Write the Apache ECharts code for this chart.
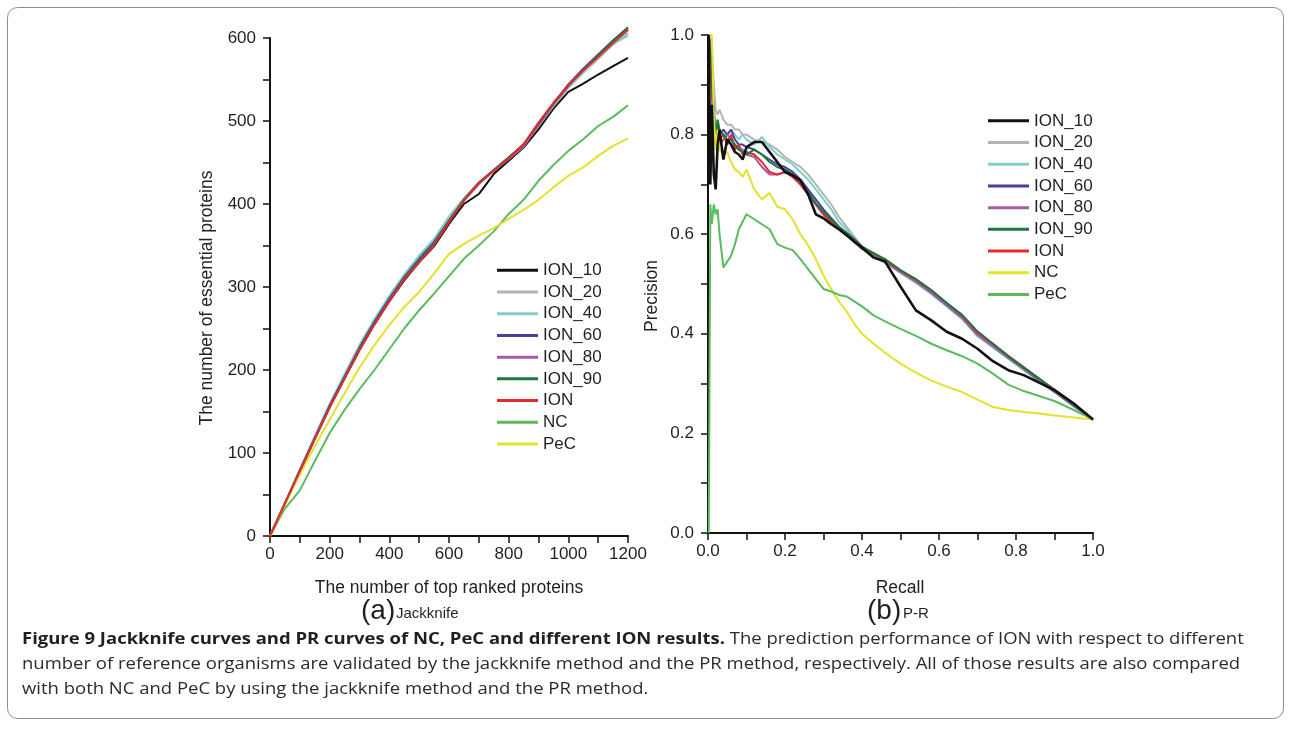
<!DOCTYPE html>
<html>
<head>
<meta charset="utf-8">
<script src="https://cdn.jsdelivr.net/npm/echarts@6/dist/echarts.min.js"></script>
<style>
html,body{margin:0;padding:0;background:#fff;}
#chart{width:1290px;height:733px;}
</style>
</head>
<body>
<div id="chart"></div>
<script>
// ---------- Data ----------
var seriesNames = ['ION_10','ION_20','ION_40','ION_60','ION_80','ION_90','ION','NC','PeC'];

// (a) Jackknife: number of top ranked proteins
var jkX = [0,50,100,150,200,250,300,350,400,450,500,550,600,650,700,750,800,850,900,950,1000,1050,1100,1150,1200];
var jkION_10 = [0,39,78,117,155,190,224,255,283,308,330,349,376,400,412,436,452,468,490,515,535,545,556,566,576];
var jkION_20 = [0,40,80,120,158,193,229,260,289,314,336,356,382,406,426,441,455,470,494,518,540,558,575,592,606];
var jkION_40 = [0,40,80,120,159,195,230,261,289,315,338,358,385,407,425,441,456,471,495,519,541,559,576,593,603];
var jkION_60 = [0,39,79,118,157,192,227,258,286,312,334,354,380,405,425,440,456,471,496,521,544,563,580,597,612];
var jkION_80 = [0,39,78,117,156,191,225,256,284,310,332,352,379,404,424,440,454,469,495,520,542,561,578,595,610];
var jkION_90 = [0,39,78,117,156,191,225,256,284,310,332,352,379,405,426,441,456,472,497,521,543,562,579,597,613];
var jkION    = [0,39,78,117,155,190,224,255,283,309,330,350,378,404,425,440,455,472,498,522,543,561,577,594,610];
var jkNC     = [0,33,55,90,124,152,177,200,225,250,272,292,313,334,350,367,388,405,428,447,464,478,494,505,519];
var jkPeC    = [0,38,74,108,140,172,203,230,254,276,294,316,340,352,362,371,382,393,405,420,434,444,458,470,479];

// (b) P-R: recall grid and precision values
var prRecall = [0.002,0.006,0.010,0.015,0.020,0.025,0.030,0.040,0.050,0.060,0.070,0.080,0.090,0.100,0.120,0.140,0.160,0.180,0.200,0.220,0.240,0.260,0.280,0.300,0.320,0.340,0.360,0.380,0.400,0.430,0.460,0.500,0.540,0.580,0.620,0.660,0.700,0.740,0.780,0.820,0.860,0.900,0.950,1.000];
var prION_10 = [1.0,0.70,0.86,0.72,0.69,0.78,0.81,0.75,0.79,0.78,0.765,0.76,0.75,0.775,0.785,0.785,0.765,0.745,0.725,0.718,0.708,0.68,0.64,0.632,0.62,0.61,0.598,0.585,0.573,0.553,0.545,0.495,0.447,0.427,0.404,0.39,0.37,0.345,0.327,0.317,0.302,0.287,0.26,0.228];
var prION_20 = [1.0,1.0,0.97,0.90,0.85,0.84,0.85,0.83,0.82,0.82,0.81,0.81,0.80,0.80,0.79,0.785,0.78,0.77,0.755,0.745,0.735,0.72,0.70,0.68,0.66,0.635,0.615,0.595,0.575,0.56,0.545,0.523,0.503,0.48,0.456,0.43,0.396,0.372,0.35,0.328,0.305,0.283,0.255,0.228];
var prION_40 = [1.0,1.0,0.95,0.86,0.82,0.82,0.81,0.80,0.80,0.81,0.80,0.79,0.80,0.79,0.78,0.795,0.775,0.76,0.75,0.74,0.725,0.71,0.69,0.67,0.65,0.625,0.61,0.59,0.572,0.557,0.543,0.522,0.502,0.48,0.455,0.43,0.395,0.373,0.35,0.327,0.305,0.283,0.254,0.228];
var prION_60 = [1.0,1.0,0.94,0.84,0.81,0.82,0.80,0.81,0.80,0.81,0.79,0.78,0.78,0.775,0.77,0.76,0.75,0.74,0.735,0.725,0.71,0.69,0.67,0.65,0.632,0.615,0.603,0.59,0.575,0.56,0.546,0.525,0.505,0.483,0.458,0.433,0.398,0.376,0.352,0.33,0.306,0.284,0.255,0.228];
var prION_80 = [1.0,0.95,0.88,0.80,0.79,0.80,0.78,0.79,0.80,0.79,0.78,0.77,0.77,0.76,0.755,0.735,0.72,0.72,0.725,0.715,0.70,0.68,0.66,0.64,0.625,0.612,0.60,0.585,0.57,0.558,0.545,0.524,0.505,0.482,0.457,0.432,0.398,0.375,0.352,0.33,0.307,0.285,0.256,0.228];
var prION_90 = [1.0,1.0,0.93,0.82,0.80,0.83,0.81,0.80,0.79,0.79,0.78,0.77,0.765,0.76,0.77,0.76,0.745,0.735,0.73,0.72,0.705,0.685,0.662,0.645,0.63,0.615,0.603,0.59,0.575,0.562,0.55,0.528,0.51,0.488,0.462,0.438,0.405,0.38,0.355,0.332,0.31,0.286,0.258,0.228];
var prION    = [1.0,1.0,0.90,0.80,0.78,0.81,0.79,0.80,0.78,0.80,0.77,0.78,0.76,0.765,0.76,0.745,0.725,0.72,0.725,0.715,0.70,0.68,0.66,0.64,0.625,0.612,0.60,0.586,0.572,0.562,0.548,0.527,0.508,0.487,0.462,0.437,0.402,0.38,0.356,0.333,0.31,0.288,0.258,0.228];
var prNC     = [1.0,1.0,1.0,0.84,0.77,0.81,0.77,0.76,0.765,0.745,0.73,0.725,0.715,0.73,0.69,0.67,0.683,0.655,0.65,0.63,0.60,0.578,0.55,0.517,0.49,0.465,0.445,0.42,0.40,0.38,0.362,0.34,0.322,0.306,0.294,0.283,0.268,0.253,0.247,0.243,0.24,0.236,0.232,0.228];
var prPeC    = [0.0,0.66,0.62,0.66,0.64,0.65,0.60,0.533,0.545,0.557,0.58,0.61,0.625,0.64,0.63,0.62,0.61,0.58,0.573,0.568,0.55,0.53,0.51,0.49,0.485,0.478,0.475,0.465,0.455,0.437,0.425,0.41,0.396,0.38,0.367,0.355,0.34,0.32,0.298,0.285,0.275,0.265,0.247,0.228];

// Axis ticks
var jkXTicks = {min:0, max:1200, interval:200};
var jkYTicks = {min:0, max:600, interval:100};
var prTicks  = {min:0, max:1, interval:0.2};

// ---------- Styles ----------
var C = {
  ION_10:'#111111', ION_20:'#b4b4b4', ION_40:'#7ccfca', ION_60:'#4a40a0',
  ION_80:'#a65aa8', ION_90:'#187a3c', ION:'#e8282c', green:'#5bbb5f', yellow:'#e4e22a'
};
var leftColors  = {ION_10:C.ION_10,ION_20:C.ION_20,ION_40:C.ION_40,ION_60:C.ION_60,ION_80:C.ION_80,ION_90:C.ION_90,ION:C.ION,NC:C.green,PeC:C.yellow};
var rightColors = {ION_10:C.ION_10,ION_20:C.ION_20,ION_40:C.ION_40,ION_60:C.ION_60,ION_80:C.ION_80,ION_90:C.ION_90,ION:C.ION,NC:C.yellow,PeC:C.green};

var FONT = 'Liberation Sans, Arial, Helvetica, sans-serif';
var TXT = '#231f20';

var jkData = {ION_10:jkION_10,ION_20:jkION_20,ION_40:jkION_40,ION_60:jkION_60,ION_80:jkION_80,ION_90:jkION_90,ION:jkION,NC:jkNC,PeC:jkPeC};
var prData = {ION_10:prION_10,ION_20:prION_20,ION_40:prION_40,ION_60:prION_60,ION_80:prION_80,ION_90:prION_90,ION:prION,NC:prNC,PeC:prPeC};

function axisCommon(){
  return {
    axisLine:{show:true,onZero:false,lineStyle:{color:'#111',width:2}},
    axisTick:{show:true,length:7,lineStyle:{color:'#111',width:1.5}},
    minorTick:{show:true,splitNumber:2,length:7,lineStyle:{color:'#111',width:1.5}},
    splitLine:{show:false},
    minorSplitLine:{show:false}
  };
}
function mk(base, extra){ return Object.assign(axisCommon(), base, extra); }

var series = [];
var leftOrder = ['ION_10','ION_20','ION_40','ION_60','ION_80','ION_90','NC','PeC','ION'];
leftOrder.forEach(function(n){
  series.push({
    name:n, type:'line', xAxisIndex:0, yAxisIndex:0, symbol:'none', showSymbol:false,
    clip:false, silent:true,
    lineStyle:{color:leftColors[n], width:2}, itemStyle:{color:leftColors[n]},
    data: jkX.map(function(x,i){ return [x, jkData[n][i]]; })
  });
});
var rightOrder = ['ION_20','ION_40','ION_60','ION_80','ION','ION_90','NC','PeC','ION_10'];
rightOrder.forEach(function(n){
  series.push({
    name:n, type:'line', xAxisIndex:1, yAxisIndex:1, symbol:'none', showSymbol:false,
    clip:false, silent:true,
    lineStyle:{color:rightColors[n], width:(n==='ION_10'?2.6:2)}, itemStyle:{color:rightColors[n]},
    data: prRecall.map(function(r,i){ return [r, prData[n][i]]; })
  });
});

function legendData(colors){
  return seriesNames.map(function(n){ return {name:n, itemStyle:{color:colors[n]}}; });
}

var labelStyle = {fontFamily:FONT, fontSize:17, color:TXT};
var TITLE = 17.5;
var CAP = 16.5;
var CAPX = 1.12;

var option = {
  animation:false,
  backgroundColor:'#ffffff',
  grid:[
    {left:270, top:38, width:358, height:498},
    {left:708, top:35, width:385, height:498}
  ],
  xAxis:[
    mk({type:'value', gridIndex:0, min:jkXTicks.min, max:jkXTicks.max, interval:jkXTicks.interval},
       {axisLabel:Object.assign({margin:10, formatter:function(v){return String(v);}}, labelStyle)}),
    mk({type:'value', gridIndex:1, min:prTicks.min, max:prTicks.max, interval:prTicks.interval},
       {axisLabel:Object.assign({margin:10, formatter:function(v){return v.toFixed(1);}}, labelStyle)})
  ],
  yAxis:[
    mk({type:'value', gridIndex:0, min:jkYTicks.min, max:jkYTicks.max, interval:jkYTicks.interval},
       {axisLabel:Object.assign({margin:14, formatter:function(v){return String(v);}}, labelStyle)}),
    mk({type:'value', gridIndex:1, min:prTicks.min, max:prTicks.max, interval:prTicks.interval},
       {axisLabel:Object.assign({margin:14, formatter:function(v){return v.toFixed(1);}}, labelStyle)})
  ],
  legend:[
    {orient:'vertical', left:497, top:259.5, padding:0, icon:'rect', itemWidth:41, itemHeight:3, itemGap:0,
     textStyle:{fontFamily:FONT, fontSize:17, color:TXT, lineHeight:21.7}, data:legendData(leftColors), selectedMode:false},
    {orient:'vertical', left:988, top:110, padding:0, icon:'rect', itemWidth:41, itemHeight:3, itemGap:0,
     textStyle:{fontFamily:FONT, fontSize:17, color:TXT, lineHeight:21.7}, data:legendData(rightColors), selectedMode:false}
  ],
  series:series,
  graphic:[
    {type:'rect', shape:{x:7.5, y:7.5, width:1276, height:711, r:10}, style:{fill:'none', stroke:'#8c8c8c', lineWidth:1}, silent:true, z:-1},
    // axis titles
    {type:'text', x:207.5, y:298, rotation:Math.PI/2, style:{text:'The number of essential proteins', fontFamily:FONT, fontSize:TITLE, fill:TXT, align:'center', verticalAlign:'middle'}},
    {type:'text', x:449, y:588, style:{text:'The number of top ranked proteins', fontFamily:FONT, fontSize:TITLE, fill:TXT, align:'center', verticalAlign:'middle'}},
    {type:'text', x:652, y:296, rotation:Math.PI/2, style:{text:'Precision', fontFamily:FONT, fontSize:TITLE, fill:TXT, align:'center', verticalAlign:'middle'}},
    {type:'text', x:900, y:588, style:{text:'Recall', fontFamily:FONT, fontSize:TITLE, fill:TXT, align:'center', verticalAlign:'middle'}},
    // panel labels
    {type:'text', x:361, y:611, style:{text:'(a)', fontFamily:FONT, fontSize:28, fill:TXT, align:'left', verticalAlign:'middle'}},
    {type:'text', x:396, y:614, style:{text:'Jackknife', fontFamily:FONT, fontSize:15, fill:TXT, align:'left', verticalAlign:'middle'}},
    {type:'text', x:867, y:611, style:{text:'(b)', fontFamily:FONT, fontSize:28, fill:TXT, align:'left', verticalAlign:'middle'}},
    {type:'text', x:903, y:614, style:{text:'P-R', fontFamily:FONT, fontSize:15, fill:TXT, align:'left', verticalAlign:'middle'}},
    // caption
    {type:'text', x:22, y:639, scaleX:CAPX, style:{
      text:'{b|Figure 9 Jackknife curves and PR curves of NC, PeC and different ION results.} The prediction performance of ION with respect to different',
      fontFamily:'Open Sans', fontSize:CAP, fill:'#2b2b2b', verticalAlign:'middle',
      rich:{b:{fontFamily:'Open Sans', fontWeight:'bold', fontSize:CAP, fill:'#1f1f1f'}}}},
    {type:'text', x:22, y:664, scaleX:CAPX, style:{text:'number of reference organisms are validated by the jackknife method and the PR method, respectively. All of those results are also compared', fontFamily:'Open Sans', fontSize:CAP, fill:'#2b2b2b', verticalAlign:'middle'}},
    {type:'text', x:22, y:689, scaleX:CAPX, style:{text:'with both NC and PeC by using the jackknife method and the PR method.', fontFamily:'Open Sans', fontSize:CAP, fill:'#2b2b2b', verticalAlign:'middle'}}
  ]
};

var chart = echarts.init(document.getElementById('chart'), null, {renderer:'canvas'});
chart.setOption(option);
</script>
</body>
</html>
